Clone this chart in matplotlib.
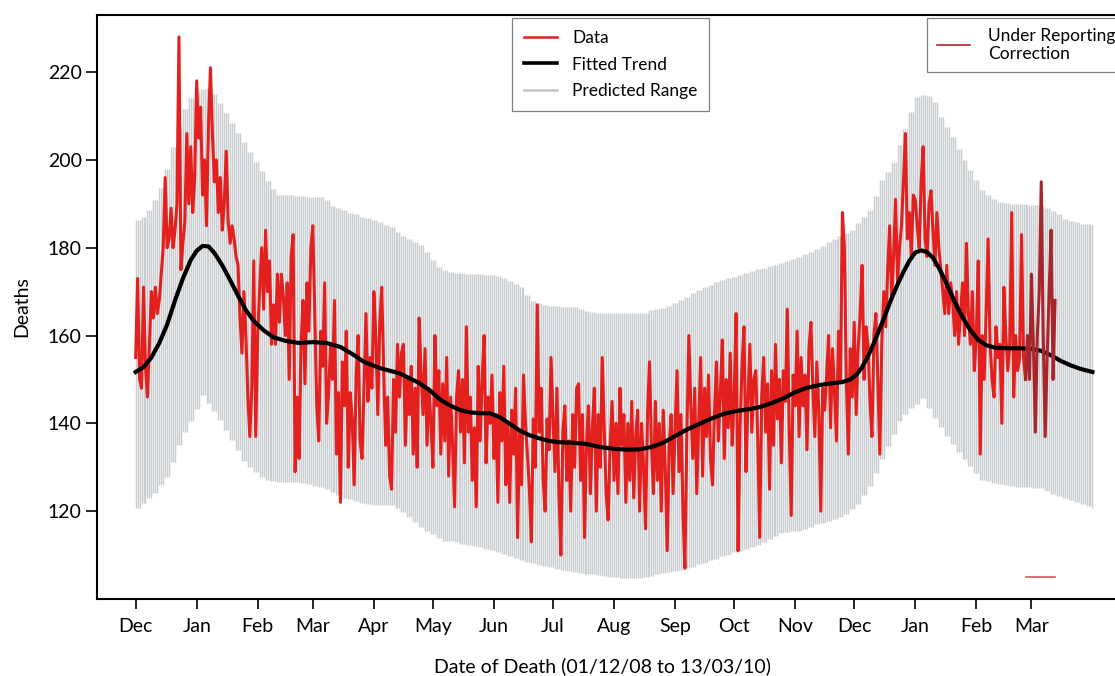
import numpy as np
import matplotlib.pyplot as plt
from matplotlib.lines import Line2D

plt.rcParams['font.family'] = ['Lato', 'DejaVu Sans']

# daily registered deaths, day 0 = 01/12/08
deaths = [
    155, 173, 150, 148, 171, 153, 146, 158, 170, 164,
    171, 165, 168, 174, 180, 196, 180, 182, 189, 180,
    184, 190, 228, 175, 181, 186, 206, 190, 203, 188,
    196, 218, 205, 212, 192, 200, 185, 208, 221, 206,
    195, 200, 188, 196, 184, 190, 202, 186, 181, 185,
    182, 178, 176, 164, 156, 170, 160, 146, 137, 148,
    177, 137, 160, 171, 180, 166, 184, 170, 177, 158,
    167, 158, 174, 163, 174, 169, 160, 172, 150, 178,
    183, 129, 146, 132, 158, 168, 149, 172, 161, 180,
    185, 164, 144, 136, 161, 153, 172, 140, 147, 158,
    150, 168, 133, 147, 122, 154, 144, 161, 130, 147,
    141, 126, 151, 160, 136, 132, 148, 165, 145, 155,
    148, 170, 160, 142, 163, 171, 152, 135, 146, 128,
    125, 150, 138, 158, 146, 156, 158, 135, 150, 142,
    153, 133, 148, 130, 164, 151, 142, 157, 135, 148,
    140, 130, 160, 144, 152, 133, 149, 136, 155, 128,
    146, 135, 121, 146, 152, 138, 150, 131, 162, 138,
    146, 127, 139, 121, 153, 136, 150, 160, 131, 146,
    140, 151, 132, 142, 122, 147, 136, 153, 126, 140,
    122, 143, 133, 148, 114, 138, 126, 151, 140, 133,
    125, 113, 141, 130, 167, 138, 148, 127, 120, 141,
    134, 155, 141, 129, 148, 124, 110, 138, 144, 127,
    136, 120, 142, 130, 148, 149, 127, 142, 114, 135,
    144, 124, 139, 148, 120, 142, 130, 155, 139, 124,
    118, 135, 145, 127, 140, 124, 148, 135, 142, 122,
    140, 127, 145, 123, 137, 143, 120, 140, 130, 116,
    142, 154, 135, 124, 145, 127, 140, 120, 143, 130,
    111, 135, 142, 124, 139, 152, 129, 142, 120, 107,
    138, 160, 144, 132, 148, 124, 140, 155, 128, 148,
    137, 151, 132, 126, 142, 154, 136, 147, 159, 132,
    150, 139, 156, 135, 146, 165, 111, 139, 153, 162,
    129, 145, 158, 138, 150, 152, 136, 114, 146, 155,
    138, 149, 125, 152, 135, 158, 141, 150, 131, 152,
    145, 166, 138, 119, 151, 144, 161, 137, 155, 144,
    151, 134, 157, 163, 148, 137, 154, 143, 120, 148,
    143, 151, 160, 139, 157, 147, 136, 161, 150, 188,
    180, 150, 133, 157, 146, 163, 142, 157, 165, 176,
    150, 162, 158, 145, 137, 160, 165, 150, 133, 158,
    170, 162, 175, 185, 168, 178, 191, 172, 180, 185,
    195, 206, 182, 188, 178, 192, 191, 185, 180, 195,
    203, 182, 178, 190, 193, 184, 176, 188, 180, 175,
    170, 165, 176, 165, 172, 168, 160, 170, 158, 165,
    172, 160, 181, 165, 158, 170, 152, 160, 177, 133,
    160, 150, 165, 182, 158, 150, 146, 162, 155, 158,
    140, 171, 160, 152, 158, 188, 146, 160, 152, 155,
    183, 155, 150, 160, 150, 174, 158, 138, 160, 170,
    195, 160, 137, 155, 170, 184, 150, 168,
]
corrected_from = 452  # last days carry the under reporting correction

# predicted range, one value per 3 days
range_step = 3
range_upper = [
    186.3, 187.0, 188.5, 190.8, 193.5, 198.0, 203.0, 207.5, 211.5, 214.0,
    215.5, 216.2, 216.4, 215.0, 213.0, 210.7, 208.4, 206.2, 204.0, 201.8,
    199.5, 197.4, 195.2, 193.4, 192.0, 192.0, 192.0, 191.8, 191.7, 191.6,
    191.5, 191.5, 190.8, 189.5, 189.0, 188.5, 188.0, 187.6, 187.1, 186.7,
    186.2, 185.8, 185.2, 184.7, 183.6, 182.7, 182.0, 181.3, 180.6, 179.0,
    177.3, 175.6, 175.0, 174.5, 174.3, 174.2, 174.1, 174.0, 174.0, 173.9,
    173.8, 173.5, 173.1, 172.4, 171.7, 171.0, 169.3, 167.9, 167.4, 166.9,
    166.8, 166.7, 166.6, 166.6, 166.5, 166.1, 165.7, 165.4, 165.1, 165.1,
    165.1, 165.1, 165.1, 165.1, 165.1, 165.1, 165.1, 165.8, 166.0, 166.2,
    166.8, 167.5, 168.1, 168.8, 169.6, 170.3, 171.0, 171.5, 172.1, 172.6,
    173.0, 173.3, 173.7, 174.2, 174.7, 175.1, 175.4, 175.8, 176.1, 176.5,
    177.0, 177.4, 177.9, 178.5, 179.1, 179.7, 180.5, 181.2, 181.9, 182.6,
    183.3, 184.0, 185.6, 187.1, 188.7, 191.7, 195.4, 197.2, 199.6, 203.3,
    207.1, 211.0, 214.3, 214.8, 214.6, 213.3, 209.7, 207.5, 205.2, 202.4,
    199.9, 197.6, 195.4, 193.1, 192.1, 191.2, 190.5, 190.1, 190.0, 190.0,
    189.9, 189.8, 189.7, 189.7, 189.0, 188.4, 187.6, 186.6, 186.1, 185.8,
    185.5, 185.3, 185.1,
]
range_lower = [
    120.7, 121.8, 122.9, 124.1, 126.0, 127.7, 131.3, 135.0, 138.0, 140.5,
    143.3, 146.5, 144.7, 142.9, 140.8, 138.5, 136.2, 133.9, 131.5, 130.1,
    128.9, 127.7, 127.2, 126.8, 126.6, 126.6, 126.6, 126.6, 126.5, 126.2,
    125.8, 125.5, 125.0, 124.3, 123.6, 123.1, 122.7, 122.3, 121.9, 121.6,
    121.4, 121.4, 121.4, 121.4, 120.7, 119.8, 118.7, 117.5, 116.4, 115.5,
    114.8, 114.0, 113.3, 113.1, 112.9, 112.6, 112.4, 112.1, 111.9, 111.5,
    111.1, 110.6, 110.2, 109.7, 109.3, 108.8, 108.5, 108.1, 107.8, 107.5,
    107.2, 106.8, 106.5, 106.3, 106.1, 106.0, 105.8, 105.6, 105.5, 105.3,
    105.1, 104.9, 104.7, 104.7, 104.7, 104.7, 104.9, 105.2, 105.6, 105.9,
    106.2, 106.4, 106.7, 107.0, 107.4, 107.9, 108.3, 108.8, 109.2, 109.7,
    110.1, 110.6, 111.0, 111.5, 111.9, 112.4, 112.9, 113.6, 114.3, 115.0,
    115.2, 115.4, 115.6, 116.0, 116.5, 117.0, 117.4, 117.8, 118.2, 118.6,
    119.3, 120.4, 121.7, 123.7, 125.7, 128.6, 131.8, 134.8, 137.6, 140.5,
    142.2, 143.4, 144.5, 145.7, 143.5, 141.3, 139.1, 137.2, 135.4, 133.5,
    131.8, 130.2, 128.7, 127.1, 126.8, 126.4, 126.1, 125.9, 125.8, 125.6,
    125.5, 125.4, 125.3, 125.2, 124.6, 124.0, 123.4, 122.9, 122.5, 122.1,
    121.6, 121.2, 120.7,
]
range_days = 487

# smoothed seasonal trend
trend_days = [
    0, 4, 8, 12, 16, 20, 24, 28, 31, 34, 37, 40, 44, 48, 52, 56, 60, 65, 70, 76,
    83, 90, 97, 104, 110, 116, 124, 134, 144, 150, 155, 160, 165, 170, 175, 180,
    185, 190, 195, 200, 205, 210, 215, 222, 229, 236, 243, 250, 256, 262, 268,
    274, 280, 287, 293, 299, 305, 311, 317, 323, 329, 335, 341, 347, 353, 359,
    363, 366, 369, 372, 375, 378, 381, 384, 387, 390, 393, 396, 399, 402, 405,
    408, 411, 414, 417, 420, 424, 428, 432, 437, 443, 449, 455, 460, 465, 470,
    475, 480, 486,
]
trend = [
    151.7, 152.8, 155.0, 158.3, 162.5, 168.0, 173.0, 177.2, 179.3, 180.4,
    180.3, 178.8, 176.0, 172.6, 169.1, 165.8, 163.3, 161.2, 159.6, 158.8,
    158.3, 158.5, 158.3, 157.4, 155.8, 154.0, 152.6, 151.4, 149.2, 147.3,
    145.3, 144.0, 143.0, 142.5, 142.3, 142.3, 141.4, 139.9, 138.4, 137.3,
    136.6, 136.0, 135.7, 135.6, 135.3, 134.6, 134.2, 134.0, 134.1, 134.6,
    135.6, 137.1, 138.6, 140.0, 141.2, 142.2, 142.8, 143.2, 143.7, 144.6,
    145.7, 147.1, 148.1, 148.7, 149.1, 149.4, 150.0, 151.0, 152.8, 155.3,
    158.3, 161.6, 165.0, 168.5, 171.6, 174.5, 177.0, 178.9, 179.4, 179.0,
    177.7, 175.4, 172.7, 169.7, 166.8, 164.2, 161.2, 159.0, 157.8, 157.2,
    157.1, 157.1, 157.0, 156.5, 155.5, 154.2, 153.2, 152.4, 151.7,
]

# short correction marker near the axis floor
marker_days = [452, 467]
marker_level = 105

month_days = [0, 31, 62, 90, 121, 151, 182, 212, 243, 274, 304, 335, 365, 396, 427, 455]
month_labels = ['Dec', 'Jan', 'Feb', 'Mar', 'Apr', 'May', 'Jun', 'Jul', 'Aug',
                'Sep', 'Oct', 'Nov', 'Dec', 'Jan', 'Feb', 'Mar']

W, H = 1115, 676
fig = plt.figure(figsize=(W / 100, H / 100), dpi=100)
ax = fig.add_axes([97 / W, 77 / H, 1023 / W, 584 / H])

days = np.arange(range_days)
up = np.repeat(range_upper, range_step)[:range_days]
lo = np.repeat(range_lower, range_step)[:range_days]
ax.vlines(days, lo, up, color='#cbced1', lw=1.05, zorder=1)

n = len(deaths)
ax.plot(np.arange(corrected_from + 1), deaths[:corrected_from + 1],
        color='#e3201e', lw=2.2, zorder=2)
ax.plot(trend_days, trend, color='black', lw=3, zorder=3)
ax.plot(np.arange(corrected_from, n), deaths[corrected_from:],
        color='#a8262b', lw=2.2, zorder=4)
ax.plot(marker_days, [marker_level] * len(marker_days), color='#cf5a5a', lw=1.2, zorder=4)

ax.set_xlim(-19.63, 500)
ax.set_ylim(100, 233)
ax.set_xticks(month_days)
ax.set_xticklabels(month_labels)
ax.set_yticks([120, 140, 160, 180, 200, 220])
ax.tick_params(axis='y', direction='out', length=8, width=1.2, labelsize=14, pad=3)
ax.tick_params(axis='x', direction='out', length=7, width=1.2, labelsize=14, pad=7)
for side in ['left', 'bottom', 'top']:
    ax.spines[side].set_linewidth(1.5)
ax.spines['right'].set_visible(False)

ax.set_ylabel('Deaths', fontsize=14)
ax.yaxis.set_label_coords(-0.065, 0.5)
fig.text(602 / W, 1 - 666 / H, 'Date of Death (01/12/08 to 13/03/10)',
         ha='center', va='center', fontsize=14)

h_data = Line2D([], [], color='#e3201e', lw=1.8)
h_trend = Line2D([], [], color='black', lw=2.6)
h_range = Line2D([], [], color='#c4c4c4', lw=1.8)
leg1 = ax.legend([h_data, h_trend, h_range], ['Data', 'Fitted Trend', 'Predicted Range'],
                 loc='upper left', bbox_to_anchor=(512 / W, 1 - 18 / H),
                 bbox_transform=fig.transFigure, borderaxespad=0, fancybox=False,
                 edgecolor='#808080', framealpha=1, fontsize=12.5, borderpad=0.7,
                 handlelength=1.9, handletextpad=0.85, labelspacing=0.6)
leg1.get_frame().set_linewidth(0.9)
ax.add_artist(leg1)

h_corr = Line2D([], [], color='#a8262b', lw=1.2)
leg2 = ax.legend([h_corr], ['Under Reporting\nCorrection'],
                 loc='upper left', bbox_to_anchor=(927 / W, 1 - 18 / H),
                 bbox_transform=fig.transFigure, borderaxespad=0, fancybox=False,
                 edgecolor='#808080', framealpha=1, fontsize=12.5, borderpad=0.6,
                 handlelength=1.9, handletextpad=1.0)
leg2.get_frame().set_linewidth(0.9)
for t in leg2.get_texts():
    t.set_linespacing(1.1)

fig.savefig('out.png', dpi=100)
